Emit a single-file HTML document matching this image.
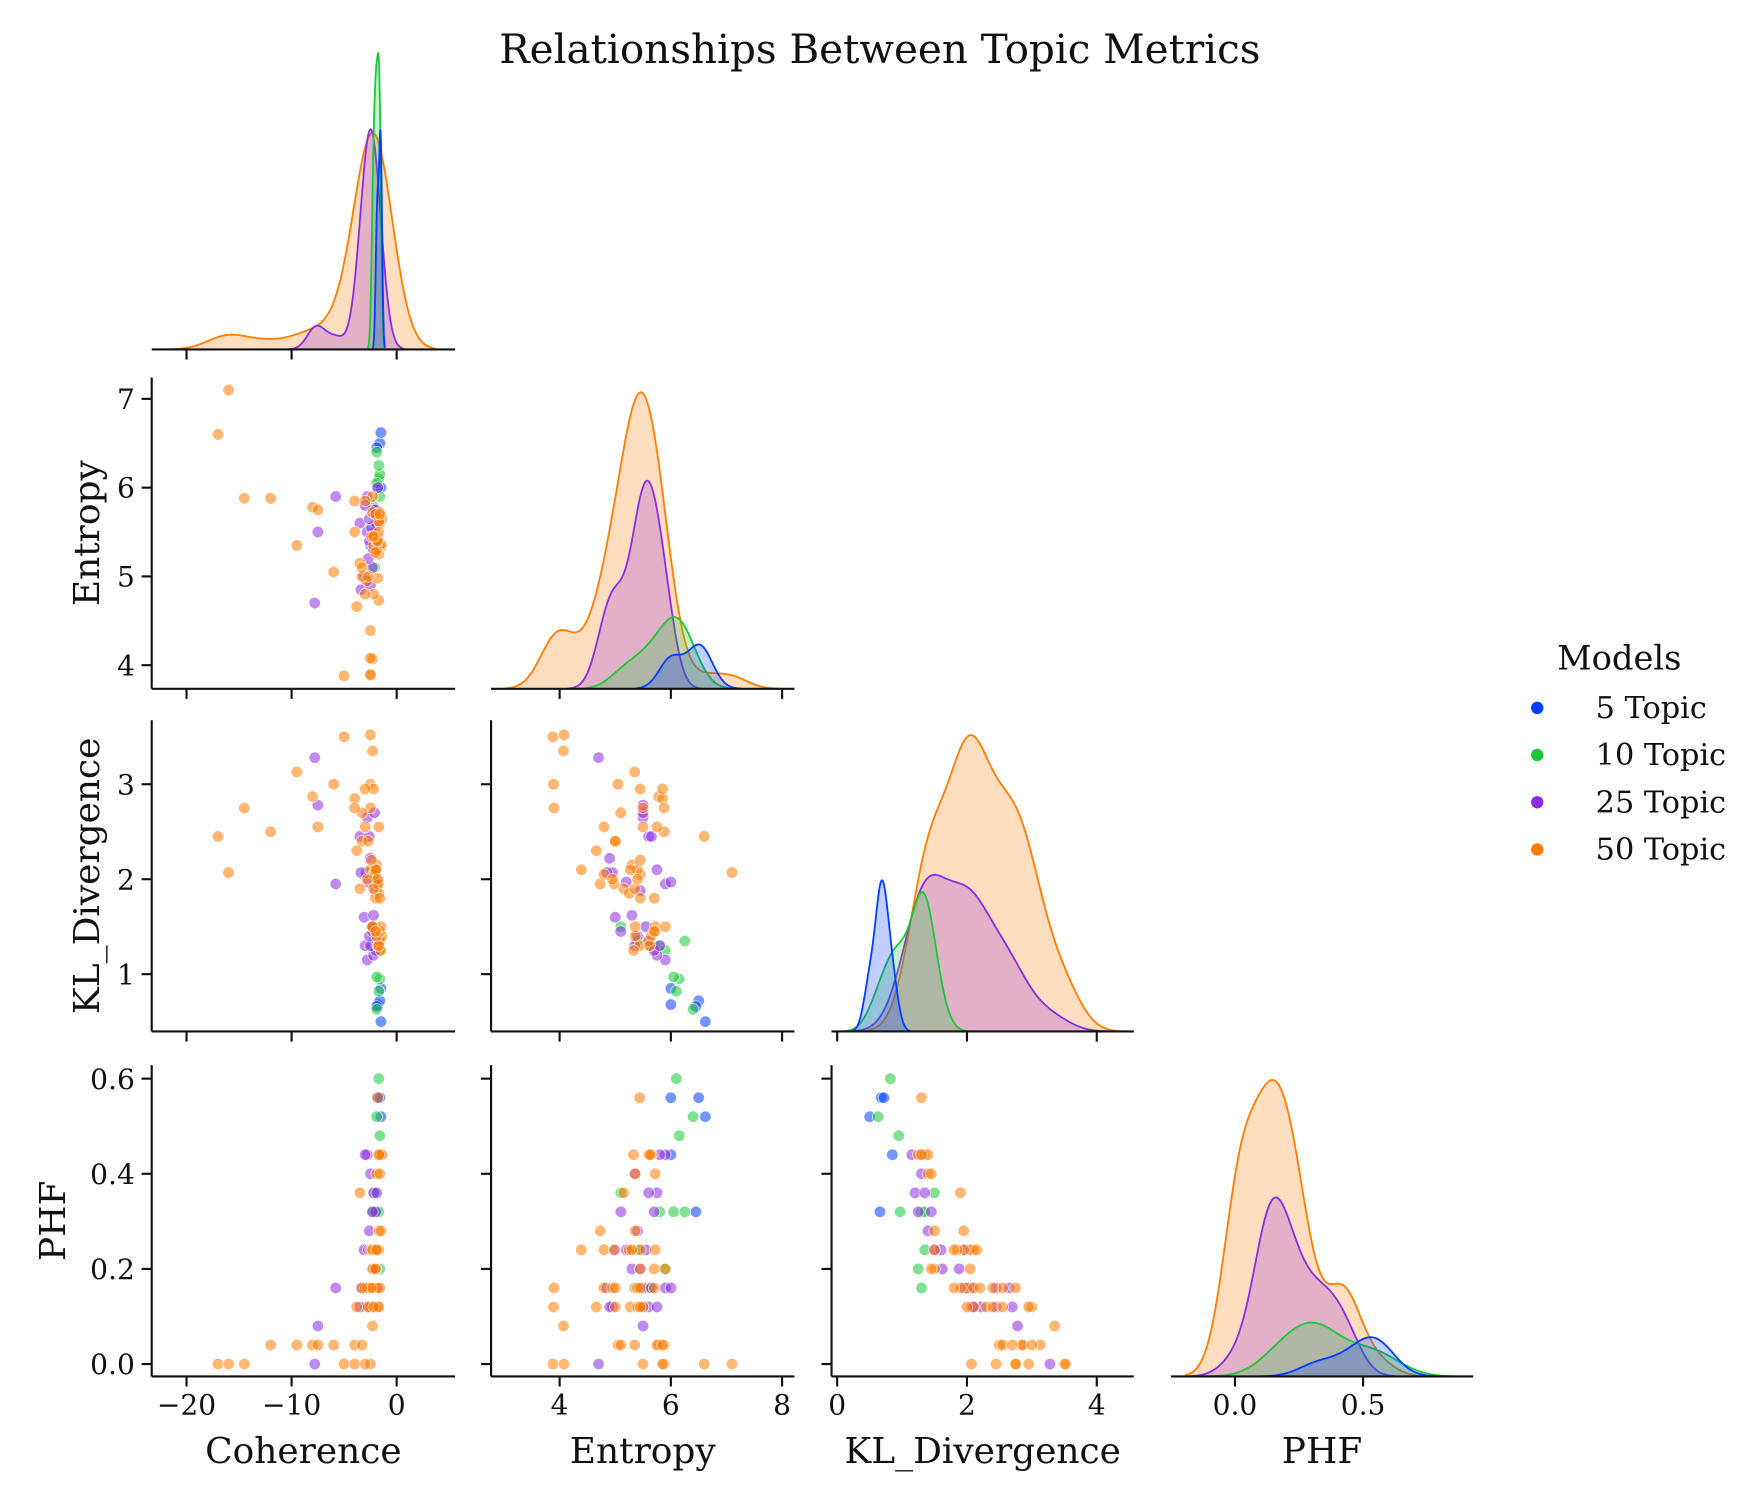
<!DOCTYPE html>
<html><head><meta charset="utf-8"><style>
html,body{margin:0;padding:0;background:#fff;}
svg{display:block;font-family:"DejaVu Serif","Liberation Serif",serif;}
</style></head><body>
<svg id="chart" width="1753" height="1500" viewBox="0 0 1560 1335" preserveAspectRatio="none" xmlns="http://www.w3.org/2000/svg">
<rect x="0" y="0" width="1560" height="1335" fill="#fff"/>
<text x="783" y="56" font-size="36" text-anchor="middle" fill="#111">Relationships Between Topic Metrics</text>
<g id="plots"></g>
<g>
<text x="1441" y="596" font-size="30" text-anchor="middle" fill="#111">Models</text>
<circle cx="1368" cy="630" r="5.5" fill="#023eff"/>
<text x="1420" y="639" font-size="27" fill="#111">5 Topic</text>
<circle cx="1368" cy="672" r="5.5" fill="#1ac938"/>
<text x="1420" y="681" font-size="27" fill="#111">10 Topic</text>
<circle cx="1368" cy="714" r="5.5" fill="#8b2be2"/>
<text x="1420" y="723" font-size="27" fill="#111">25 Topic</text>
<circle cx="1368" cy="756" r="5.5" fill="#ff7c00"/>
<text x="1420" y="765" font-size="27" fill="#111">50 Topic</text>
</g>
</svg>
<script>
const modelNames = ["5 Topic","10 Topic","25 Topic","50 Topic"];
const modelColors = ["#023eff","#1ac938","#8b2be2","#ff7c00"];
const varNames = ["Coherence","Entropy","KL_Divergence","PHF"];

const coh5 = [-1.8,-1.6,-1.5,-1.5,-1.9];
const ent5 = [6.0,6.5,6.62,6.0,6.45];
const kl5  = [0.68,0.72,0.5,0.85,0.66];
const phf5 = [0.56,0.56,0.52,0.44,0.32];

const coh10 = [-1.7,-1.9,-1.6,-2.1,-1.9,-2.3,-1.7,-1.6,-2.0,-2.2];
const ent10 = [6.1,6.4,6.15,5.1,6.05,5.8,6.25,5.9,5.6,5.4];
const kl10  = [0.82,0.63,0.95,1.5,0.97,1.3,1.35,1.25,1.3,1.35];
const phf10 = [0.6,0.52,0.48,0.36,0.32,0.32,0.32,0.2,0.16,0.24];

const coh25 = [-2.8,-2.2,-2.0,-3.0,-2.5,-1.9,-5.8,-2.6,-2.3,-3.1,-2.2,-2.0,-1.8,-2.7,-2.9,-3.4,-2.5,-3.5,-2.8,-2.1,-7.5,-7.8,-2.4,-2.0,-2.6];
const ent25 = [5.9,5.75,5.7,5.8,5.35,5.6,5.9,5.4,5.1,5.0,5.3,5.45,6.0,5.2,4.95,4.85,4.9,5.6,5.5,5.5,5.5,4.7,5.55,5.75,5.65];
const kl25  = [1.15,1.2,1.25,1.3,1.3,1.35,1.95,1.4,1.45,1.6,1.62,1.88,1.97,1.97,2.07,2.07,2.22,2.45,2.65,2.7,2.78,3.28,1.5,2.1,2.45];
const phf25 = [0.44,0.36,0.32,0.44,0.4,0.36,0.16,0.28,0.32,0.24,0.2,0.2,0.16,0.24,0.12,0.16,0.12,0.12,0.16,0.12,0.08,0.0,0.24,0.12,0.16];

const coh50 = [-1.8,-1.5,-1.6,-1.4,-1.7,-1.9,-1.6,-3.5,-1.7,-1.5,-2.5,-2.2,-1.8,-1.7,-2.0,-2.3,-1.9,-2.1,-2.3,-2.0,-2.5,-3.0,-2.8,-2.2,-1.9,-1.6,-2.4,-3.3,-2.5,-3.8,-2.7,-2.0,-1.8,-1.7,-2.2,-2.3,-12.0,-9.5,-8.0,-7.5,-4.0,-6.0,-3.3,-5.0,-2.5,-14.5,-4.0,-3.0,-17.0,-16.0];
const ent50 = [5.44,5.33,5.6,5.65,5.62,5.36,5.72,5.15,4.73,5.36,4.39,4.8,4.98,5.25,5.45,5.72,5.3,5.45,5.9,5.7,3.9,4.8,4.95,5.35,5.4,5.7,5.45,5.0,3.89,4.66,5.0,5.27,5.4,5.5,5.45,4.07,5.88,5.35,5.78,5.75,5.85,5.05,5.1,3.88,4.08,5.88,5.5,5.85,6.6,7.1];
const kl50  = [1.3,1.25,1.35,1.4,1.3,1.4,1.45,1.9,1.95,1.5,2.1,2.05,1.95,1.85,1.8,1.5,2.15,2.05,1.5,1.45,2.75,2.55,2.0,1.9,2.1,1.8,2.2,2.4,3.0,2.3,2.4,2.1,2.0,2.55,2.95,3.35,2.5,3.13,2.87,2.55,2.85,3.0,2.7,3.5,3.52,2.75,2.75,2.95,2.45,2.07];
const phf50 = [0.56,0.44,0.44,0.44,0.44,0.4,0.4,0.36,0.28,0.28,0.24,0.24,0.24,0.24,0.24,0.24,0.24,0.2,0.2,0.2,0.16,0.16,0.16,0.16,0.16,0.16,0.16,0.16,0.12,0.12,0.12,0.12,0.12,0.12,0.12,0.08,0.04,0.04,0.04,0.04,0.04,0.04,0.04,0.0,0.0,0.0,0.0,0.0,0.0,0.0];

const xTicks = [[-20,-10,0],[4,6,8],[0,2,4],[0.0,0.5]];
const xTickLabels = [["\u221220","\u221210","0"],["4","6","8"],["0","2","4"],["0.0","0.5"]];
const yTicks = [null,[4,5,6,7],[1,2,3],[0.0,0.2,0.4,0.6]];
const yTickLabels = [null,["4","5","6","7"],["1","2","3"],["0.0","0.2","0.4","0.6"]];

const groups = [[coh5,ent5,kl5,phf5],[coh10,ent10,kl10,phf10],[coh25,ent25,kl25,phf25],[coh50,ent50,kl50,phf50]];

const NS = "http://www.w3.org/2000/svg";
const root = document.getElementById("plots");
function mk(tag, attrs, parent){const e=document.createElementNS(NS,tag);for(const k in attrs)e.setAttribute(k,attrs[k]);(parent||root).appendChild(e);return e;}

const colL = [135,437,740,1042], colR = [405,707,1009,1311];
const rowT = [34,336,641,948], rowB = [311,613,918,1225];
function lin(v0,p0,v1,p1){return v=>p0+(v-v0)*(p1-p0)/(v1-v0);}
const xs = [lin(-20,166,0,353), lin(4,498,8,696), lin(0,745,4,976), lin(0,1099,0.5,1213)];
const ys = [null, lin(4,592,7,355), lin(1,867,3,698), lin(0,1214,0.6,960)];
const TL = 9, SW = "1.9";

const totalN = groups.reduce((s,g)=>s+g[0].length,0);

function kde(vals){
  const n=vals.length, m=vals.reduce((a,b)=>a+b,0)/n;
  const sd=Math.sqrt(vals.reduce((a,b)=>a+(b-m)*(b-m),0)/(n-1));
  const bw=sd*Math.pow(n,-0.2);
  const lo=Math.min(...vals)-3*bw, hi=Math.max(...vals)+3*bw;
  const pts=[];
  for(let k=0;k<200;k++){const x=lo+(hi-lo)*k/199;let s=0;for(const v of vals){const z=(x-v)/bw;s+=Math.exp(-0.5*z*z);}
    pts.push([x, s/(totalN*bw*Math.sqrt(2*Math.PI))]);}
  return pts;
}

for(let i=0;i<4;i++){
  for(let j=0;j<=i;j++){
    const g = mk("g",{});
    
    
    const L=colL[j],R=colR[j],T=rowT[i],B=rowB[i];
    if(i===j){
      const curves = groups.map(gr=>kde(gr[i]));
      let mx=0; curves.forEach(c=>c.forEach(p=>{if(p[1]>mx)mx=p[1];}));
      const ymax=mx*1.05, h=B-T;
      for(let q=3;q>=0;q--){
        const c=curves[q];
        let d=c.map((p,k)=>(k?"L":"M")+xs[j](p[0]).toFixed(2)+","+(B-p[1]/ymax*h).toFixed(2)).join("");
        const fill=mk("path",{d:d+"L"+xs[j](c[c.length-1][0]).toFixed(2)+","+B+"L"+xs[j](c[0][0]).toFixed(2)+","+B+"Z",fill:modelColors[q],"fill-opacity":"0.25",stroke:"none"},g);
        
        
        const line=mk("path",{d:d,fill:"none",stroke:modelColors[q],"stroke-width":"1.6"},g);
        
        
      }
    } else {
      for(let q=0;q<4;q++){
        const gr=groups[q];
        for(let k=0;k<gr[0].length;k++){
          const c=mk("circle",{cx:xs[j](gr[j][k]).toFixed(2),cy:ys[i](gr[i][k]).toFixed(2),r:"5.1",fill:modelColors[q],"fill-opacity":"0.55",stroke:"#fff","stroke-width":"0.7","stroke-opacity":"0.8"},g);
          
          
        }
      }
      const ls=mk("line",{x1:L,y1:T,x2:L,y2:B,stroke:"#111","stroke-width":SW},g);
      
      
      yTicks[i].forEach((v,k)=>{
        const y=ys[i](v);
        mk("line",{x1:L-TL,y1:y,x2:L,y2:y,stroke:"#111","stroke-width":SW},g);
        if(j===0){
          const t=mk("text",{x:L-TL-6,y:y+9,"font-size":"25","text-anchor":"end",fill:"#111"},g);
          t.textContent=yTickLabels[i][k];
          
          
        }
      });
    }
    const bs=mk("line",{x1:L,y1:B,x2:R,y2:B,stroke:"#111","stroke-width":SW},g);
    
    
    xTicks[j].forEach((v,k)=>{
      const x=xs[j](v);
      mk("line",{x1:x,y1:B,x2:x,y2:B+TL,stroke:"#111","stroke-width":SW},g);
      if(i===3){
        const t=mk("text",{x:x,y:B+34,"font-size":"25","text-anchor":"middle",fill:"#111"},g);
        t.textContent=xTickLabels[j][k];
        
        
      }
    });
  }
}
for(let j=0;j<4;j++){
  const t=mk("text",{x:(colL[j]+colR[j])/2,y:1302,"font-size":"32","text-anchor":"middle",fill:"#111"});
  t.textContent=varNames[j];
  
  
}
const yLabX=[null,88,88,58];
for(let i=1;i<4;i++){
  const cy=(rowT[i]+rowB[i])/2;
  const t=mk("text",{x:yLabX[i],y:cy,"font-size":"32","text-anchor":"middle",fill:"#111",transform:"rotate(-90 "+yLabX[i]+" "+cy+")"});
  t.textContent=varNames[i];
  
  
}
</script>
</body></html>
